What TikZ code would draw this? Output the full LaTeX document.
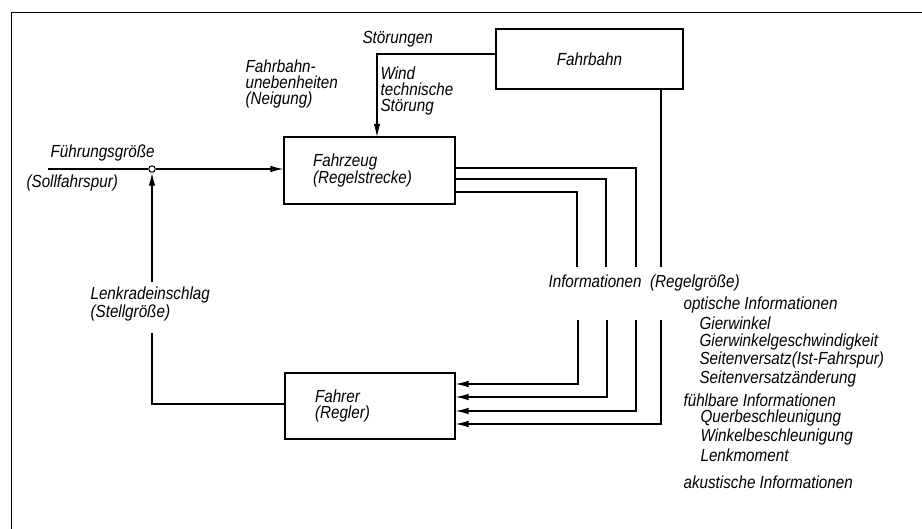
\documentclass[tikz,border=0pt]{standalone}
\usepackage{fontspec}
\setmainfont{Liberation Sans}[FakeStretch=0.87]
\usetikzlibrary{arrows.meta}
\begin{document}
\begin{tikzpicture}[x=1pt,y=-1pt,
  line width=1.1pt,
  arr/.style={-{Latex[length=13pt,width=6.5pt]}},
  every node/.style={font=\fontsize{17.5}{16}\selectfont\itshape, inner sep=0pt},
  blk/.style={draw, line width=1.2pt, minimum height=#1, align=left},
  lbl/.style={anchor=west, align=left}]
\useasboundingbox (0,0) rectangle (922,529);
% frame
\draw[line width=1pt] (11,529) -- (11,13) -- (922,13);
% blocks
\node[blk=67pt, text width=113pt, inner xsep=29pt] (fz) at (369.5,170.5) {Fahrzeug\\(Regelstrecke)};
\node[blk=60pt, minimum width=187pt, align=center] (fb) at (589.5,59) {Fahrbahn};
\node[blk=66pt, text width=110pt, inner xsep=30pt] (fr) at (370,406) {Fahrer\\(Regler)};
\node[circle, draw, line width=1pt, minimum size=6.5pt] (sum) at (152,169) {};
% coordinates for free ends
\coordinate (in) at (48,169);
\coordinate (dist) at (377,137);
\coordinate (fbk1) at (152,333);
\coordinate (fbk2) at (152,282);
\coordinate (a1) at (636,267); \coordinate (b1) at (606,267); \coordinate (c1) at (577,267); \coordinate (d1) at (661,267);
\coordinate (a2) at (578,320); \coordinate (b2) at (607,320); \coordinate (c2) at (636,320); \coordinate (d2) at (661,320);
% connectors
\draw (in) -- (sum.west);
\draw[arr] (sum.east) -- (sum.east -| fz.west);
\draw[arr] (fb.west |- 0,54) -| (dist);
\draw (fb.south -| d1) -- (d1);
\draw (fz.east |- 0,168) -| (a1);
\draw (fz.east |- 0,179) -| (b1);
\draw (fz.east |- 0,192) -| (c1);
\draw[arr] (a2) |- (fr.east |- 0,384);
\draw[arr] (b2) |- (fr.east |- 0,397);
\draw[arr] (c2) |- (fr.east |- 0,411);
\draw[arr] (d2) |- (fr.east |- 0,424);
\draw (fr.west |- 0,404) -| (fbk1);
\draw[arr] (fbk2) -- (sum.south);
% labels
\node[lbl] (fg) at (50,153) {Führungsgröße};
\node[lbl] (sf) at (26,183) {(Sollfahrspur)};
\node[lbl] (fu) at (245,84) {Fahrbahn-\\unebenheiten\\(Neigung)};
\node[lbl] (st) at (362,39) {Störungen};
\node[lbl] (wi) at (380,91) {Wind\\technische\\Störung};
\node[lbl] (lk) at (90,304) {Lenkradeinschlag\\(Stellgröße)};
\node[lbl] (inf) at (548,283) {Informationen\ \ (Regelgröße)};
\node[lbl] (l1) at (683,305) {optische Informationen};
\node[lbl] (l2) at (699,323) {Gierwinkel};
\node[lbl] (l3) at (699,342) {Gierwinkelgeschwindigkeit};
\node[lbl] (l4) at (699,360) {Seitenversatz(Ist-Fahrspur)};
\node[lbl] (l5) at (699,379) {Seitenversatzänderung};
\node[lbl] (l6) at (683,400) {fühlbare Informationen};
\node[lbl] (l7) at (700,418) {Querbeschleunigung};
\node[lbl] (l8) at (700,437) {Winkelbeschleunigung};
\node[lbl] (l9) at (700,455) {Lenkmoment};
\node[lbl] (l10) at (683,482) {akustische Informationen};
\end{tikzpicture}
\end{document}
